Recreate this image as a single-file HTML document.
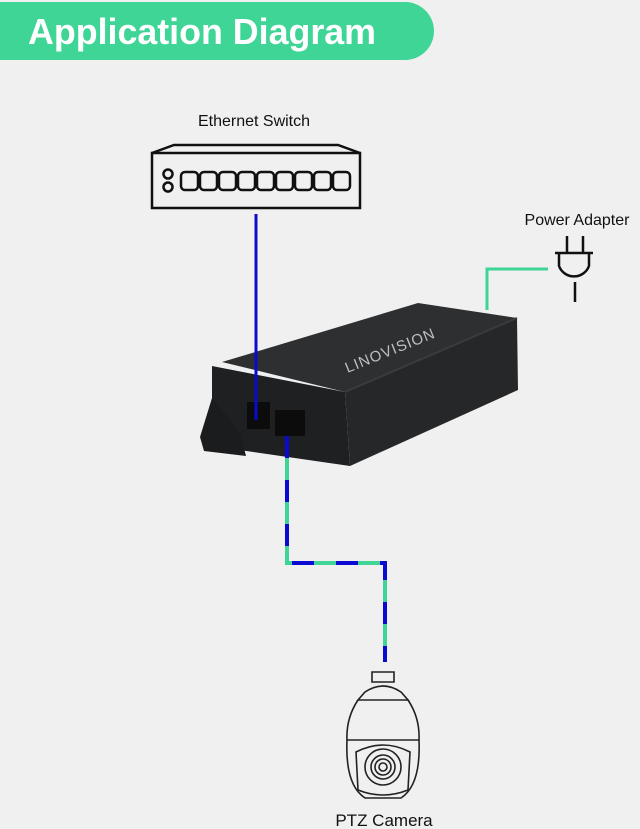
<!DOCTYPE html>
<html><head><meta charset="utf-8"><style>
html,body{margin:0;padding:0;background:#f0f0f0;}
body{width:640px;height:829px;position:relative;overflow:hidden;font-family:"Liberation Sans",sans-serif;}
</style></head><body>
<svg width="640" height="829" viewBox="0 0 640 829" xmlns="http://www.w3.org/2000/svg" style="position:absolute;left:0;top:0">
<rect width="640" height="829" fill="#f0f0f0"/>
<path d="M0 2 H405 A29 29 0 0 1 405 60 H0 Z" fill="#3ed597"/>
<text x="28" y="44" font-family="Liberation Sans" font-weight="bold" font-size="36" fill="#fff" textLength="348" lengthAdjust="spacingAndGlyphs">Application Diagram</text>
<text x="254" y="126" text-anchor="middle" font-family="Liberation Sans" font-size="16" fill="#111">Ethernet Switch</text>
<g fill="none" stroke="#111" stroke-width="2.5">
<path d="M152 153 L174 145 H338 L360 153"/>
<rect x="152" y="153" width="208" height="55"/>
<circle cx="168" cy="174" r="4.5"/><circle cx="168" cy="187" r="4.5"/>
<rect x="181" y="172" width="17" height="18" rx="4"/><rect x="200" y="172" width="17" height="18" rx="4"/>
<rect x="219" y="172" width="17" height="18" rx="4"/><rect x="238" y="172" width="17" height="18" rx="4"/>
<rect x="257" y="172" width="17" height="18" rx="4"/><rect x="276" y="172" width="17" height="18" rx="4"/>
<rect x="295" y="172" width="17" height="18" rx="4"/><rect x="314" y="172" width="17" height="18" rx="4"/>
<rect x="333" y="172" width="17" height="18" rx="4"/>
</g>
<text x="577" y="225" text-anchor="middle" font-family="Liberation Sans" font-size="16" fill="#111">Power Adapter</text>
<g fill="none" stroke="#111" stroke-width="2.5">
<path d="M567 236 V252 M583 236 V252 M555 253 H593 M559 253 V266 A16 16 0 0 0 589 266 V253 M575 282 V302"/>
</g>
<path d="M548 269 H487 V310" fill="none" stroke="#3ed597" stroke-width="3"/>
<polygon points="222,362 418,303 517,318 345,392" fill="#2e2f31"/>
<polygon points="212,366 345,392 350,466 212,446" fill="#1f2022"/>
<polygon points="345,392 517,318 518,390 350,466" fill="#262729"/>
<polygon points="200,437 212,398 240,432 246,456 204,451" fill="#1b1c1e"/>
<path d="M345 392 L517 318" stroke="#3a3b3e" stroke-width="2"/>
<rect x="247" y="402" width="23" height="27" fill="#0c0c0d"/>
<rect x="275" y="410" width="30" height="26" fill="#0c0c0d"/>
<text x="392" y="355" transform="rotate(-22 392 355)" text-anchor="middle" font-family="Liberation Sans" font-size="15" fill="#bfbfbf" letter-spacing="1">LINOVISION</text>
<line x1="256" y1="214" x2="256" y2="420" stroke="#0a0ad0" stroke-width="3"/>
<path d="M287 436 V563 H385 V662" fill="none" stroke="#3ed597" stroke-width="4"/>
<path d="M287 436 V563 H385 V662" fill="none" stroke="#0a0ad0" stroke-width="4" stroke-dasharray="22 22"/>
<g fill="none" stroke="#222" stroke-width="1.6">
<path d="M372 672 H394 V682 H372 Z"/>
<path d="M365 692 Q383 680 401 692 L408 700 H358 Z"/>
<path d="M358 700 Q346 718 347 740 H419 Q420 718 408 700"/>
<path d="M347 740 Q345 785 365 798 H401 Q421 785 419 740"/>
<path d="M356 752 Q383 738 410 752 L408 790 Q383 800 358 790 Z"/>
<circle cx="383" cy="767" r="18"/><circle cx="383" cy="767" r="12"/>
<circle cx="383" cy="767" r="8"/><circle cx="383" cy="767" r="4"/>
</g>
<text x="384" y="826" text-anchor="middle" font-family="Liberation Sans" font-size="17" fill="#111">PTZ Camera</text>
</svg>
</body></html>
